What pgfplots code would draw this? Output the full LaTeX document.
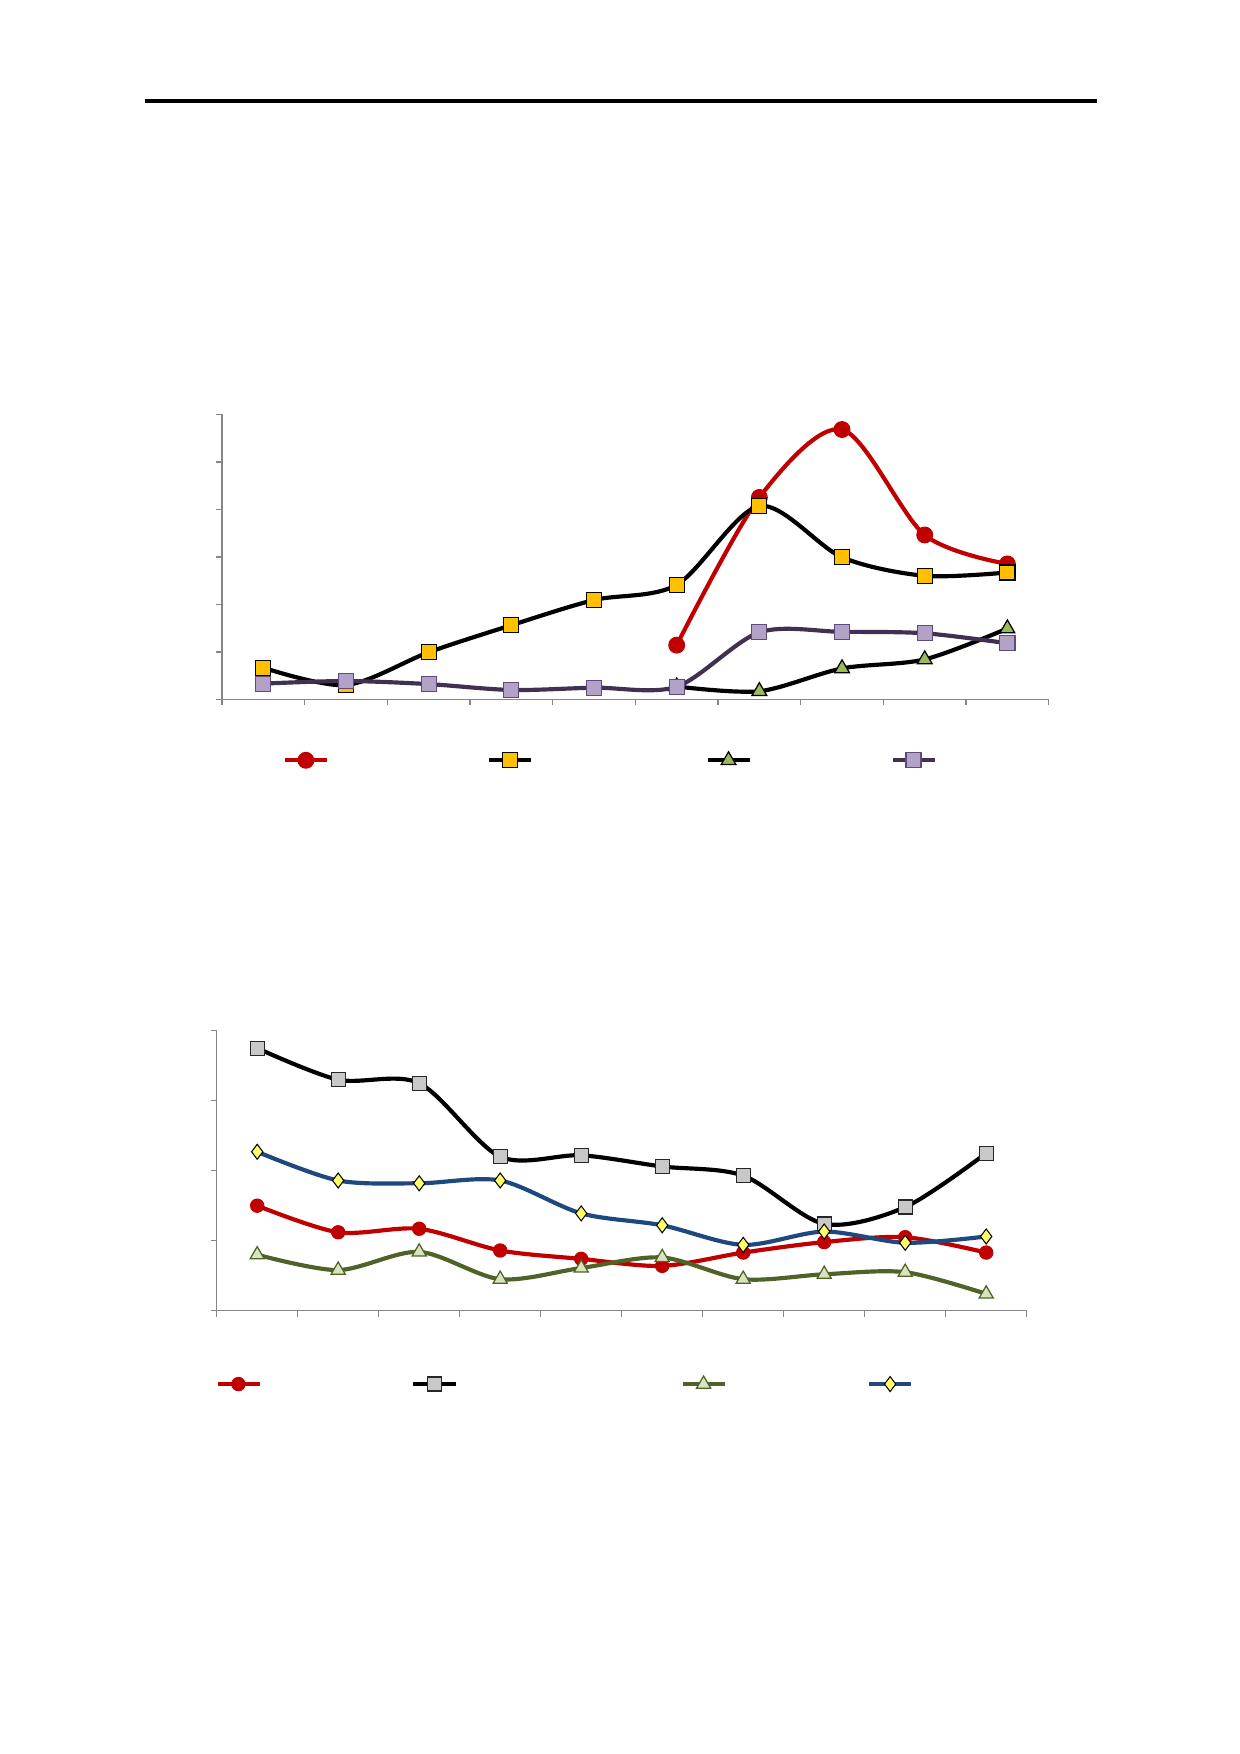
\documentclass[border=0pt]{standalone}
\usepackage{pgfplots}
\pgfplotsset{compat=1.18}
\definecolor{axgray}{RGB}{134,134,134}
\definecolor{cred}{RGB}{192,0,0}
\definecolor{cyellow}{RGB}{255,192,0}
\definecolor{cgreenA}{RGB}{155,187,89}
\definecolor{cpurpleL}{RGB}{64,49,82}
\definecolor{cpurpleF}{RGB}{179,162,199}
\definecolor{cpurpleD}{RGB}{96,74,123}
\definecolor{cgrayF}{RGB}{200,200,200}
\definecolor{cblue}{RGB}{31,73,125}
\definecolor{cdiam}{RGB}{255,255,102}
\definecolor{cgreenL}{RGB}{79,98,40}
\definecolor{cgreenF}{RGB}{215,228,189}
\pgfplotsset{
  base/.style={
    scale only axis,
    axis x line*=bottom, axis y line*=left,
    axis line style={axgray, line width=0.7pt},
    tick style={axgray, line width=0.7pt},
    tick align=outside, major tick length=2.9pt,
    xticklabels={}, yticklabels={},
    xmin=0, xmax=10, xtick={0,1,...,10},
    clip=false,
    legend columns=4,
    legend image code/.code={\draw[mark repeat=2,mark phase=2,##1] plot coordinates {(0pt,0pt) (10pt,0pt) (20pt,0pt)};},
  },
  ser/.style={smooth, tension=0.5, line width=2pt},
}
\begin{document}
\begin{tikzpicture}
\path (0,0) rectangle (594.95pt,841.57pt);
\draw[line width=1.5pt] (69.8pt,793.1pt) -- (526.3pt,793.1pt);

\begin{axis}[base,
  at={(106.52pt,506.04pt)}, anchor=south west,
  width=396.65pt, height=136.74pt,
  ymin=0, ymax=6, ytick={0,1,...,6},
  legend style={at={(0.0737,-0.213)}, anchor=west, draw=none, fill=none,
    inner sep=0pt, outer sep=0pt, column sep=0pt,
    nodes={inner sep=0pt, outer sep=0pt}},
]
\addplot[ser, cred, mark=*, mark size=3.8pt, mark options={solid, fill=cred, draw=cred, line width=0.5pt}]
  coordinates {(5.5,1.14) (6.5,4.25) (7.5,5.68) (8.5,3.46) (9.5,2.85)};
\addlegendentry{\hspace*{76.0pt}}
\addplot[ser, black, mark=square*, mark size=3.6pt, mark options={solid, fill=cyellow, draw=black, line width=0.6pt}]
  coordinates {(0.5,0.665) (1.5,0.30) (2.5,0.99) (3.5,1.56) (4.5,2.09) (5.5,2.41) (6.5,4.07) (7.5,2.99) (8.5,2.60) (9.5,2.67)};
\addlegendentry{\hspace*{82.8pt}}
\addplot[ser, black, mark=triangle*, mark size=4.1pt, mark options={solid, fill=cgreenA, draw=black, line width=0.6pt}]
  coordinates {(5.5,0.27) (6.5,0.17) (7.5,0.65) (8.5,0.84) (9.5,1.49)};
\addlegendentry{\hspace*{66.8pt}}
\addplot[ser, cpurpleL, mark=square*, mark size=3.6pt, mark options={solid, fill=cpurpleF, draw=cpurpleD, line width=0.6pt}]
  coordinates {(0.5,0.33) (1.5,0.385) (2.5,0.32) (3.5,0.196) (4.5,0.245) (5.5,0.265) (6.5,1.41) (7.5,1.42) (8.5,1.39) (9.5,1.18)};
\addlegendentry{}
\end{axis}

\begin{axis}[base,
  at={(103.97pt,212.70pt)}, anchor=south west,
  width=388.64pt, height=134.34pt,
  ymin=0, ymax=4, ytick={0,1,...,4},
  legend style={at={(-0.0015,-0.261)}, anchor=west, draw=none, fill=none,
    inner sep=0pt, outer sep=0pt, column sep=0pt,
    nodes={inner sep=0pt, outer sep=0pt}},
]
\addplot[ser, cred, mark=*, mark size=3.2pt, mark options={solid, fill=cred, draw=cred, line width=0.5pt}]
  coordinates {(0.5,1.50) (1.5,1.12) (2.5,1.17) (3.5,0.86) (4.5,0.74) (5.5,0.64) (6.5,0.83) (7.5,0.98) (8.5,1.05) (9.5,0.83)};
\addlegendentry{\hspace*{72.0pt}}
\addplot[ser, black, mark=square*, mark size=3.35pt, mark options={solid, fill=cgrayF, draw=black!85, line width=0.6pt}]
  coordinates {(0.5,3.75) (1.5,3.30) (2.5,3.25) (3.5,2.20) (4.5,2.22) (5.5,2.06) (6.5,1.93) (7.5,1.24) (8.5,1.48) (9.5,2.25)};
\addlegendentry{\hspace*{107.2pt}}
\addplot[ser, cgreenL, mark=triangle*, mark size=3.9pt, mark options={solid, fill=cgreenF, draw=cgreenL, line width=0.6pt}]
  coordinates {(0.5,0.80) (1.5,0.58) (2.5,0.84) (3.5,0.45) (4.5,0.61) (5.5,0.76) (6.5,0.45) (7.5,0.52) (8.5,0.55) (9.5,0.24)};
\addlegendentry{\hspace*{67.5pt}}
\addplot[ser, cblue, mark=diamond*, mark size=3.6pt, mark options={solid, fill=cdiam, draw=black, line width=0.5pt}]
  coordinates {(0.5,2.27) (1.5,1.86) (2.5,1.82) (3.5,1.86) (4.5,1.39) (5.5,1.22) (6.5,0.94) (7.5,1.13) (8.5,0.97) (9.5,1.06)};
\addlegendentry{}
\end{axis}
\end{tikzpicture}
\end{document}
